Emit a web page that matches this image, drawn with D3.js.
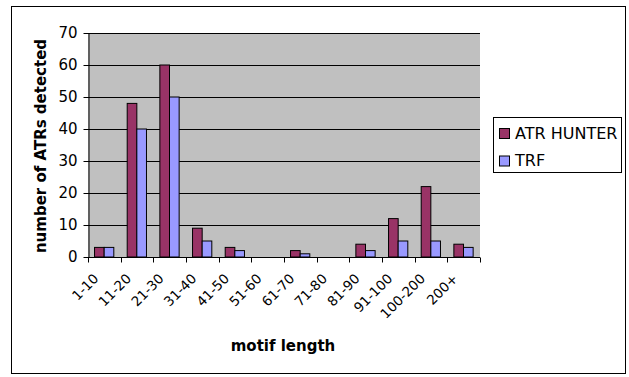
<!DOCTYPE html>
<html>
<head>
<meta charset="utf-8">
<script src="https://cdn.jsdelivr.net/npm/d3@7/dist/d3.min.js"></script>
<style>
  html, body { margin: 0; padding: 0; background: #fff; }
  svg { display: block; }
  text { font-family: "DejaVu Sans", sans-serif; fill: #000; }
</style>
</head>
<body>
<svg id="chart" width="629" height="377"></svg>
<script>
const categories = ["1-10", "11-20", "21-30", "31-40", "41-50", "51-60", "61-70", "71-80", "81-90", "91-100", "100-200", "200+"];
const seriesNames = ["ATR HUNTER", "TRF"];
const atrHunter = [3, 48, 60, 9, 3, 0, 2, 0, 4, 12, 22, 4];
const trf = [3, 40, 50, 5, 2, 0, 1, 0, 2, 5, 5, 3];
const yTicks = [0, 10, 20, 30, 40, 50, 60, 70];
const colors = ["#993366", "#9999FF"];

const svg = d3.select("#chart");

// outer chart frame
svg.append("rect")
  .attr("x", 11.5).attr("y", 6.5).attr("width", 614).attr("height", 367)
  .attr("fill", "#fff").attr("stroke", "#000").attr("stroke-width", 1);

const plot = { left: 88, top: 33, right: 480, bottom: 257 };

const x = d3.scaleBand().domain(categories).range([plot.left, plot.right]).paddingInner(0).paddingOuter(0);
const y = d3.scaleLinear().domain([0, 70]).range([plot.bottom, plot.top]);

// plot background
svg.append("rect")
  .attr("x", plot.left).attr("y", plot.top)
  .attr("width", plot.right - plot.left).attr("height", plot.bottom - plot.top)
  .attr("fill", "#C0C0C0");

// gridlines
svg.append("g").selectAll("line").data(yTicks.filter(d => d > 0)).join("line")
  .attr("x1", plot.left).attr("x2", plot.right)
  .attr("y1", d => Math.round(y(d)) + 0.5).attr("y2", d => Math.round(y(d)) + 0.5)
  .attr("stroke", "#000").attr("stroke-width", 1);

// bars
const barW = x.bandwidth() * 0.295;
const offset = x.bandwidth() * 0.2;
const series = [atrHunter, trf];
series.forEach((vals, si) => {
  svg.append("g").selectAll("rect").data(categories).join("rect")
    .attr("x", d => x(d) + offset + si * barW)
    .attr("y", (d, i) => y(vals[i]))
    .attr("width", barW)
    .attr("height", (d, i) => y(0) - y(vals[i]))
    .attr("fill", colors[si])
    .attr("stroke", (d, i) => vals[i] > 0 ? "#000" : "none")
    .attr("stroke-width", 1);
});

// y axis
const yAxis = svg.append("g")
  .attr("transform", `translate(${plot.left + 0.5},0)`)
  .call(d3.axisLeft(y).tickValues(yTicks).tickSize(5).tickPadding(6).tickSizeOuter(0));
yAxis.select(".domain").attr("stroke", "#000");
yAxis.selectAll(".tick line").attr("stroke", "#000");
yAxis.selectAll("text")
  .style("font-size", "15px").style("font-family", "DejaVu Sans, sans-serif").attr("fill", "#222");

// x axis
const xAxis = svg.append("g")
  .attr("transform", `translate(0,${plot.bottom + 0.5})`);
xAxis.append("line")
  .attr("x1", plot.left).attr("x2", plot.right)
  .attr("stroke", "#000");
const boundaries = categories.map(c => x(c)).concat([plot.right]);
xAxis.selectAll("line.tick").data(boundaries).join("line")
  .attr("class", "tick")
  .attr("x1", d => Math.round(d) + 0.5).attr("x2", d => Math.round(d) + 0.5)
  .attr("y1", 0).attr("y2", 5)
  .attr("stroke", "#000");
xAxis.selectAll("text").data(categories).join("text")
  .attr("transform", d => `translate(${x(d) + x.bandwidth() / 2 - 5},${22}) rotate(-45)`)
  .attr("text-anchor", "end")
  .style("font-size", "13.5px")
  .attr("fill", "#222")
  .text(d => d);

// axis titles
svg.append("text")
  .attr("transform", `translate(46,${(plot.top + plot.bottom) / 2 + 1}) rotate(-90)`)
  .attr("text-anchor", "middle")
  .style("font-size", "15px").style("font-weight", "bold")
  .text("number of ATRs detected");

svg.append("text")
  .attr("x", 283).attr("y", 351)
  .attr("text-anchor", "middle")
  .style("font-size", "15px").style("font-weight", "bold")
  .text("motif length");

// legend
const legend = svg.append("g");
legend.append("clipPath").attr("id", "legend-clip")
  .append("rect").attr("x", 494).attr("y", 118).attr("width", 127).attr("height", 54);
legend.append("rect")
  .attr("x", 493.5).attr("y", 117.5).attr("width", 128).attr("height", 55)
  .attr("fill", "#fff").attr("stroke", "#000");
seriesNames.forEach((name, i) => {
  const base = 138.5 + i * 27.5;
  legend.append("rect")
    .attr("x", 499.5).attr("y", base - 10).attr("width", 10).attr("height", 10)
    .attr("fill", colors[i]).attr("stroke", "#000");
  legend.append("text")
    .attr("x", 515).attr("y", base)
    .attr("clip-path", "url(#legend-clip)")
    .style("font-size", "16px")
    .text(name);
});
</script>
</body>
</html>
